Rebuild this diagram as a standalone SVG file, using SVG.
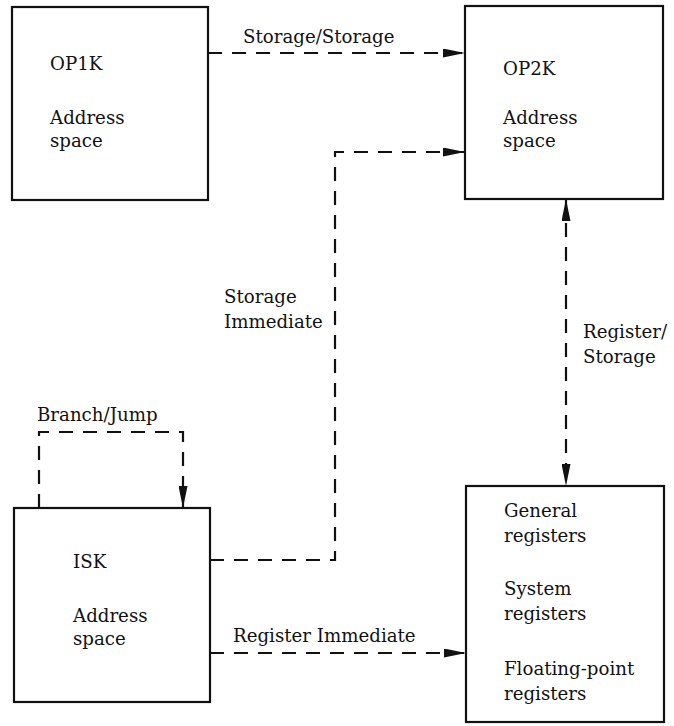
<svg xmlns="http://www.w3.org/2000/svg" width="674" height="726" viewBox="0 0 674 726">
<style>
.box{fill:none;stroke:#111;stroke-width:2.2}
.t{font-family:'DejaVu Serif','Liberation Serif',serif;font-size:18.2px;fill:#111}
.c{fill:none;stroke:#111;stroke-width:2.2;stroke-dasharray:14 10}
</style>
<defs>
<marker id="ah" viewBox="0 0 22 9" refX="22" refY="4.5" markerWidth="22" markerHeight="9" markerUnits="userSpaceOnUse" orient="auto-start-reverse">
<path d="M0,0 L22,4.5 L0,9 Z" fill="#111"/>
</marker>
</defs>
<rect width="674" height="726" fill="#fff"/>
<g id="op1k">
<rect class="box" x="12" y="7" width="196" height="193"/>
<text class="t" x="50" y="70">OP1K</text>
<text class="t" x="50" y="124">Address</text>
<text class="t" x="50" y="147">space</text>
</g>
<g id="op2k">
<rect class="box" x="465" y="6" width="198" height="193"/>
<text class="t" x="503" y="75">OP2K</text>
<text class="t" x="503" y="124">Address</text>
<text class="t" x="503" y="147">space</text>
</g>
<g id="isk">
<rect class="box" x="14" y="508" width="196" height="194"/>
<text class="t" x="73" y="568">ISK</text>
<text class="t" x="73" y="622">Address</text>
<text class="t" x="73" y="645">space</text>
</g>
<g id="registers">
<rect class="box" x="466" y="486" width="198" height="236"/>
<text class="t" x="504" y="517">General</text>
<text class="t" x="504" y="542">registers</text>
<text class="t" x="504" y="595">System</text>
<text class="t" x="504" y="620">registers</text>
<text class="t" x="504" y="675">Floating-point</text>
<text class="t" x="504" y="700">registers</text>
</g>
<g id="connectors">
<path class="c" d="M208,53 H465" marker-end="url(#ah)"/>
<path class="c" d="M210,560 H335 V152 H465" marker-end="url(#ah)"/>
<path class="c" d="M39,508 V432 H183 V508" marker-end="url(#ah)"/>
<path class="c" d="M210,653 H466" marker-end="url(#ah)"/>
<path class="c" d="M566,199 V486" marker-start="url(#ah)" marker-end="url(#ah)"/>
</g>
<g id="labels">
<text class="t" x="243" y="43">Storage/Storage</text>
<text class="t" x="224" y="303">Storage</text>
<text class="t" x="224" y="328">Immediate</text>
<text class="t" x="583" y="338">Register/</text>
<text class="t" x="583" y="363">Storage</text>
<text class="t" x="37" y="421">Branch/Jump</text>
<text class="t" x="233" y="642">Register Immediate</text>
</g>
</svg>
